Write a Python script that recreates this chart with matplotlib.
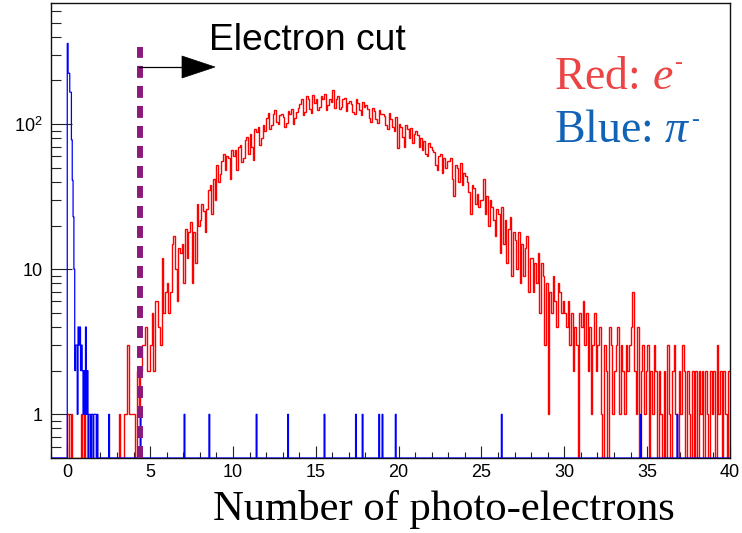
import numpy as np
import matplotlib
matplotlib.use("Agg")
import matplotlib.pyplot as plt
from matplotlib.ticker import FixedLocator, FixedFormatter, LogLocator, MultipleLocator, NullFormatter
from matplotlib.patches import Polygon
from matplotlib.lines import Line2D

plt.rcParams['mathtext.fontset'] = 'custom'
plt.rcParams['mathtext.rm'] = 'Liberation Sans'
plt.rcParams['mathtext.it'] = 'Liberation Serif:italic'

# ---------------- data ----------------
# electron counts, bins of 0.1 photo-electrons from 0 to 40 (one row per unit)
electron_counts = [
    1, 0, 1, 0, 0, 0, 0, 0, 1, 0,          # 0
    1, 0, 0, 0, 0, 0, 0, 0, 0, 0,          # 1
    0, 0, 0, 0, 0, 0, 0, 0, 0, 0,          # 2
    0, 1, 0, 0, 1, 1, 3, 1, 1, 1,          # 3
    1, 0, 2, 1, 2, 3, 3, 4, 2, 2,          # 4
    3, 5, 2, 6, 6, 4, 3, 12, 5, 7,         # 5
    8, 5, 7, 15, 17, 10, 6, 14, 13, 15,    # 6
    8, 19, 12, 18, 21, 8, 18, 11, 28, 20,  # 7
    22, 28, 25, 18, 26, 35, 38, 24, 42, 30,  # 8
    52, 40, 45, 56, 62, 48, 60, 58, 42, 66,  # 9
    60, 66, 48, 70, 72, 55, 58, 78, 82, 62,  # 10
    85, 70, 57, 92, 88, 95, 72, 80, 98, 90,  # 11
    110, 120, 92, 98, 118, 126, 104, 100, 115, 118,    # 12
    112, 96, 102, 124, 118, 128, 100, 110, 122, 130,   # 13
    138, 150, 115, 122, 155, 148, 128, 120, 158, 140,  # 14
    150, 125, 132, 155, 148, 160, 126, 135, 150, 142,  # 15
    171, 130, 150, 155, 128, 132, 148, 152, 124, 140,  # 16
    145, 138, 122, 118, 148, 140, 126, 115, 142, 132,  # 17
    135, 128, 110, 104, 130, 124, 108, 102, 126, 118,  # 18
    118, 114, 98, 92, 120, 108, 96, 90, 112, 68,       # 19
    100, 96, 82, 70, 98, 92, 80, 94, 74, 86,           # 20
    90, 84, 70, 80, 66, 76, 62, 60, 74, 70,            # 21
    66, 64, 52, 48, 60, 62, 46, 58, 50, 56,            # 22
    56, 58, 42, 32, 52, 50, 40, 54, 38, 46,            # 23
    44, 40, 34, 24, 38, 36, 28, 33, 27, 30,            # 24
    30, 42, 24, 32, 20, 30, 27, 22, 17, 26,            # 25
    24, 13, 27, 15, 22, 11, 19, 23, 9, 18,             # 26
    16, 10, 18, 8, 15, 9, 14, 17, 7, 12,               # 27
    12, 7, 11, 8, 13, 5, 11, 9, 3, 8,                  # 28
    1, 7, 5, 9, 6, 4, 8, 7, 5, 6,                      # 29
    5, 4, 6, 3, 5, 2, 4, 3, 0, 5,                      # 30
    4, 6, 3, 5, 2, 4, 1, 3, 5, 2,                      # 31
    3, 4, 1, 0, 3, 2, 0, 4, 3, 1,                      # 32
    2, 3, 4, 1, 3, 2, 1, 3, 2, 3,                      # 33
    4, 7, 2, 1, 4, 0, 2, 3, 1, 2,                      # 34
    3, 0, 2, 1, 3, 2, 0, 2, 1, 0,                      # 35
    2, 0, 3, 1, 0, 2, 3, 1, 0, 2,                      # 36
    1, 3, 2, 0, 2, 1, 0, 2, 0, 2,                      # 37
    0, 2, 1, 2, 0, 2, 1, 0, 2, 1,                      # 38
    2, 0, 3, 1, 2, 0, 2, 1, 0, 2,                      # 39
]

# pion counts: low edge of non-empty 0.05-wide bins and their counts
pion_bin_low = [0.00, 0.05, 0.10, 0.15, 0.20, 0.25, 0.30, 0.35, 0.40,
                0.45, 0.50, 0.55, 0.60, 0.65, 0.70, 0.75, 0.80, 0.85, 0.90,
                0.95, 1.00, 1.05, 1.10, 1.15, 1.20, 1.30, 1.35, 1.45, 1.50,
                1.60, 1.65, 1.70, 1.80, 2.50, 4.40, 7.05, 8.55, 11.40, 13.30,
                15.50, 17.40, 17.80, 18.80, 19.00, 19.80, 26.20, 34.60, 36.80]
pion_counts = [360, 224, 224, 166, 166, 78, 41, 23, 10,
               2, 3, 3, 1, 4, 3, 4, 2, 3, 2,
               1, 2, 1, 4, 1, 2, 1, 1, 1, 1,
               1, 1, 1, 1, 1, 1, 1, 1, 1, 1,
               1, 1, 1, 1, 1, 1, 1, 1, 1]

cut_value = 4.4
x_label = "Number of photo-electrons"
y_tick_values = [1, 10, 100]
y_tick_labels = ["1", "10", r"$10^{2}$"]
x_tick_values = [0, 5, 10, 15, 20, 25, 30, 35, 40]

# ---------------- figure ----------------
W, H = 742, 533
fig = plt.figure(figsize=(W / 100, H / 100), dpi=100)
L, R, T, B = 50.7, 730, 3.3, 458
ax = fig.add_axes([L / W, 1 - B / H, (R - L) / W, (B - T) / H])
ax.set_yscale('log')
ymin, ymax = 0.5, 680
ax.set_xlim(-1, 40)
ax.set_ylim(ymin, ymax)

# electron histogram (range -1..40, 0.1 bins; bins below 0 empty)
e_vals = np.concatenate([np.zeros(10), np.array(electron_counts, float)])
e_edges = np.round(np.linspace(-1, 40, len(e_vals) + 1), 3)
ax.stairs(np.where(e_vals > 0, e_vals, ymin), e_edges, color='#ff0000',
          lw=1.0, baseline=None, zorder=2)

# pion histogram (0.05 bins)
nb = 820
p_edges = np.round(np.linspace(-1, 40, nb + 1), 3)
p_vals = np.zeros(nb)
for lo, c in zip(pion_bin_low, pion_counts):
    p_vals[int(round((lo + 1) / 0.05))] = c
ax.stairs(np.where(p_vals > 0, p_vals, ymin), p_edges, color='#0000ff',
          lw=0.9, baseline=None, zorder=3)

# electron cut dashed line
ax.plot([cut_value, cut_value], [ymin, 10 ** ((415 - 47) / 145.3)], color='#8c1a7c',
        lw=4.3, linestyle=(0, (2.0, 1.35)), solid_capstyle='butt', zorder=4,
        clip_on=False)

# arrow (figure pixels)
def fx(px):
    return px / W
def fy(py):
    return 1 - py / H
fig.add_artist(Line2D([fx(139), fx(183)], [fy(67), fy(67)], color='black', lw=0.9))
fig.add_artist(Polygon([[fx(182), fy(56)], [fx(182), fy(78)], [fx(215), fy(67)]],
                       closed=True, facecolor='black', edgecolor='black', lw=0.5))

# texts
fig.text(fx(209), fy(50), "Electron cut", fontsize=26.8, family='Liberation Sans',
         ha='left', va='baseline')
t_red = fig.text(fx(554), fy(89), r"Red: $e$", fontsize=33, family='Liberation Serif',
                 color='#ec4444', ha='left', va='baseline')
t_blue = fig.text(fx(554), fy(142), r"Blue: $\pi$", fontsize=33, family='Liberation Serif',
                  color='#1262b6', ha='left', va='baseline')
fig.text(fx(213), fy(520), x_label, fontsize=30.7, family='Liberation Serif',
         ha='left', va='baseline')

fig.canvas.draw()
bb_r = t_red.get_window_extent()
bb_b = t_blue.get_window_extent()
fig.text((bb_r.x1 + 1) / W, fy(69), "-", fontsize=17, family='Liberation Serif',
         color='#ec4444', ha='left', va='baseline')
fig.text((bb_b.x1 + 0) / W, fy(126), "-", fontsize=17, family='Liberation Serif',
         color='#1262b6', ha='left', va='baseline')

# ticks
ax.yaxis.set_major_locator(FixedLocator(y_tick_values))
ax.yaxis.set_major_formatter(FixedFormatter(y_tick_labels))
ax.yaxis.set_minor_locator(LogLocator(base=10, subs=np.arange(2, 10)))
ax.yaxis.set_minor_formatter(NullFormatter())
ax.xaxis.set_major_locator(FixedLocator(x_tick_values))
ax.xaxis.set_minor_locator(MultipleLocator(1))
ax.tick_params(axis='both', which='both', direction='in', width=0.8, color='#222222')
ax.tick_params(axis='y', which='major', length=15, pad=6)
ax.tick_params(axis='y', which='minor', length=7.5)
ax.tick_params(axis='x', which='major', length=9, pad=4)
ax.tick_params(axis='x', which='minor', length=4.5)
for lbl in ax.get_xticklabels() + ax.get_yticklabels():
    lbl.set_fontfamily('Liberation Sans')
    lbl.set_fontsize(13)
for s in ax.spines.values():
    s.set_linewidth(1.0)
    s.set_color('#111111')

fig.savefig("out.png", dpi=100)
